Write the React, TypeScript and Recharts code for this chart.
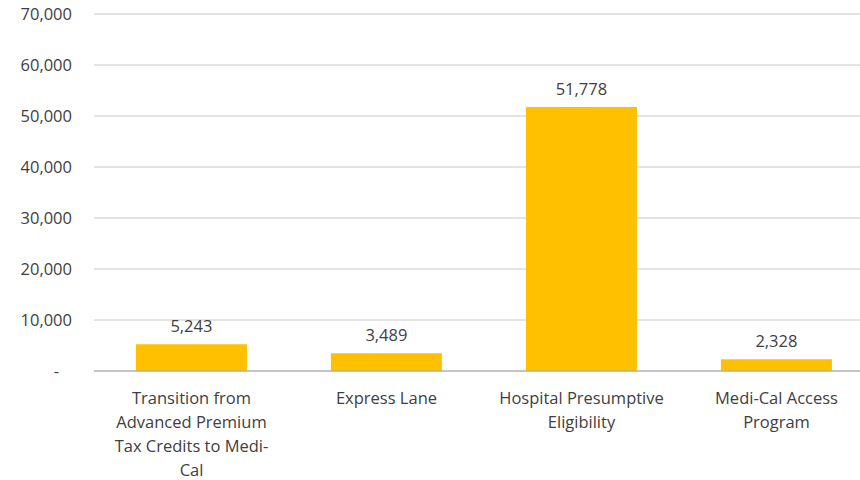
import React from "react";
import { BarChart, Bar, XAxis, YAxis, CartesianGrid, LabelList } from "recharts";

const categories = [
  "Transition from Advanced Premium Tax Credits to Medi-Cal",
  "Express Lane",
  "Hospital Presumptive Eligibility",
  "Medi-Cal Access Program",
];
const tickLines = [
  ["Transition from", "Advanced Premium", "Tax Credits to Medi-", "Cal"],
  ["Express Lane"],
  ["Hospital Presumptive", "Eligibility"],
  ["Medi-Cal Access", "Program"],
];
const enrollees = [5243, 3489, 51778, 2328];
const yTicks = [0, 10000, 20000, 30000, 40000, 50000, 60000, 70000];

const data = categories.map((name, i) => ({ name, value: enrollees[i], idx: i }));

const FONT = "'Open Sans', sans-serif";
const TEXT = "#404040";

const CategoryTick = (props: any) => {
  const { x, y, index } = props;
  const lines = tickLines[index] || [];
  return (
    <text x={x} y={y + 25} textAnchor="middle" fill={TEXT} fontFamily={FONT} fontSize={16.5}>
      {lines.map((l: string, i: number) => (
        <tspan key={i} x={x} dy={i === 0 ? 0 : 24}>
          {l}
        </tspan>
      ))}
    </text>
  );
};

const fmtY = (v: number) => (v === 0 ? "-\u00a0\u00a0\u00a0" : v.toLocaleString("en-US"));

export default function App() {
  return (
    <div style={{ position: "absolute", left: 0, top: 0, width: 860, height: 480, overflow: "hidden", background: "#fff" }}>
      <BarChart
        width={874}
        height={480}
        data={data}
        margin={{ top: 14, right: 0, left: 0, bottom: 0 }}
        barCategoryGap="21.5%"
      >
        <CartesianGrid vertical={false} stroke="#c8c8c8" strokeWidth={1} />
        <XAxis
          dataKey="name"
          height={109}
          interval={0}
          tickLine={false}
          axisLine={{ stroke: "#a6a6a6" }}
          tick={<CategoryTick />}
        />
        <YAxis
          width={94}
          domain={[0, 70000]}
          ticks={yTicks}
          tickFormatter={fmtY}
          axisLine={false}
          tickLine={false}
          tickSize={0}
          tickMargin={22}
          tick={{ fill: TEXT, fontFamily: FONT, fontSize: 16.5 }}
        />
        <Bar dataKey="value" fill="#FFC000" isAnimationActive={false}>
          <LabelList
            dataKey="value"
            position="top"
            offset={12}
            formatter={(v: any) => Number(v).toLocaleString("en-US")}
            style={{ fill: TEXT, fontFamily: FONT, fontSize: 16.5 }}
          />
        </Bar>
      </BarChart>
    </div>
  );
}
